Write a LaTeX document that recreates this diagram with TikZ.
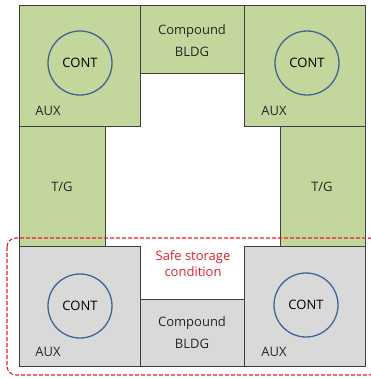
\documentclass[tikz,border=0pt]{standalone}
\usepackage{fontspec}
\setmainfont{Open Sans}
\definecolor{grn}{HTML}{C3D69B}
\definecolor{gry}{HTML}{D9D9D9}
\definecolor{edge}{HTML}{404040}
\definecolor{circ}{HTML}{3F6598}
\definecolor{redd}{HTML}{E8202A}
\begin{document}
\begin{tikzpicture}[x=1pt,y=-1pt,
  bld/.style={draw=edge,line width=0.9pt},
  cont/.style={circle,draw=circ,line width=1.3pt,minimum size=64pt,inner sep=0pt,font=\fontsize{13}{15}\selectfont},
  lbl/.style={font=\fontsize{13}{15}\selectfont,text=black!85,inner sep=0pt},
  lbl2/.style={lbl,align=center,font=\fontsize{13}{22}\selectfont},
  safe/.style={draw=redd,line width=1.1pt,dash pattern=on 4pt off 2pt,rounded corners=9pt}]
\useasboundingbox (0,0) rectangle (371,378);
% top row
\filldraw[bld,fill=grn] (19,5) rectangle (140,126);
\filldraw[bld,fill=grn] (140,5) rectangle (244,73);
\filldraw[bld,fill=grn] (244,5) rectangle (365,126);
% T/G
\filldraw[bld,fill=grn] (19,126) rectangle (105,246);
\filldraw[bld,fill=grn] (280,126) rectangle (365,246);
% bottom row
\filldraw[bld,fill=gry] (19,246) rectangle (140,366);
\filldraw[bld,fill=gry] (140,299) rectangle (244,366);
\filldraw[bld,fill=gry] (244,246) rectangle (365,366);
% circles
\node[cont] (c1) at (80,63) {CONT};
\node[cont] (c2) at (307,63) {CONT};
\node[cont] (c3) at (80,306) {CONT};
\node[cont] (c4) at (306,305) {CONT};
% labels
\node[lbl] (a1) at (48,111) {AUX};
\node[lbl] (a2) at (274,111) {AUX};
\node[lbl] (a3) at (48,352) {AUX};
\node[lbl] (a4) at (274,352) {AUX};
\node[lbl2] (cb1) at (192,41) {Compound\\BLDG};
\node[lbl2] (cb2) at (192,333) {Compound\\BLDG};
\node[lbl] (tg1) at (62,187) {T/G};
\node[lbl] (tg2) at (322,187) {T/G};
\node[lbl2,text=redd,font=\fontsize{13}{16}\selectfont] (sf) at (193,264) {Safe storage\\condition};
% dashed region
\draw[safe] (7,238) rectangle (378,375);
\end{tikzpicture}
\end{document}
